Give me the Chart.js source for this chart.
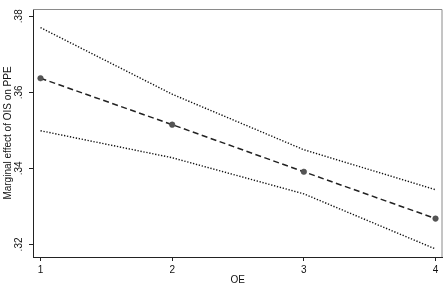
<!DOCTYPE html>
<html><head><meta charset="utf-8">
<script src="https://cdn.jsdelivr.net/npm/chart.js@4"></script>
<style>html,body{margin:0;padding:0;background:#fff}#wrap{width:447px;height:284px;position:relative}</style>
</head><body><div id="wrap"><canvas id="c"></canvas></div>
<script>
const oe = [1, 2, 3, 4];
const effect = [0.3637, 0.3515, 0.3391, 0.3268];
const upper = [0.3770, 0.3595, 0.3449, 0.3344];
const lower = [0.3499, 0.3428, 0.3333, 0.3188];
const xTicks = [1, 2, 3, 4];
const yTicks = [0.32, 0.34, 0.36, 0.38];
const xTitle = 'OE';
const yTitle = 'Marginal effect of OIS on PPE';

const FONT = 'Liberation Sans, Arial, sans-serif';
const pts = arr => oe.map((x, i) => ({x: x, y: arr[i]}));

const framePlugin = {
  id: 'frame',
  afterDraw(chart) {
    const a = chart.chartArea, ctx = chart.ctx;
    ctx.save();
    ctx.strokeStyle = '#8a8a8a';
    ctx.lineWidth = 1;
    ctx.beginPath();
    ctx.moveTo(a.left, a.top + 0.5);
    ctx.lineTo(a.right - 0.5, a.top + 0.5);
    ctx.lineTo(a.right - 0.5, a.bottom);
    ctx.stroke();
    ctx.restore();
  }
};

new Chart(document.getElementById('c'), {
  type: 'line',
  data: {
    datasets: [
      {data: pts(upper), borderColor: '#111', borderWidth: 1.4, borderDash: [1.3, 1.7], pointRadius: 0, tension: 0},
      {data: pts(effect), borderColor: '#222', borderWidth: 1.5, borderDash: [6, 3.5], pointRadius: 2.8, pointBackgroundColor: '#555', pointBorderColor: '#444', pointBorderWidth: 0.5, tension: 0},
      {data: pts(lower), borderColor: '#111', borderWidth: 1.4, borderDash: [1.3, 1.7], pointRadius: 0, tension: 0}
    ]
  },
  options: {
    responsive: true,
    maintainAspectRatio: false,
    animation: false,
    layout: {padding: {top: 2, right: 2, left: 0, bottom: 0}},
    plugins: {legend: {display: false}, tooltip: {enabled: false}},
    scales: {
      x: {
        type: 'linear', min: 0.943, max: 4.053,
        afterBuildTicks: s => { s.ticks = xTicks.map(v => ({value: v})); },
        afterFit: s => { s.height = 27; },
        grid: {drawOnChartArea: false, drawTicks: true, tickLength: 4, color: '#222'},
        border: {display: true, color: '#222', width: 1},
        ticks: {color: '#111', font: {family: FONT, size: 10}, padding: 3, maxRotation: 0, callback: v => String(v)},
        title: {display: true, text: xTitle, color: '#111', font: {family: FONT, size: 10}, padding: {top: 0, bottom: -2}}
      },
      y: {
        type: 'linear', min: 0.3167, max: 0.3819,
        afterBuildTicks: s => { s.ticks = yTicks.map(v => ({value: v})); },
        afterFit: s => { s.width = 33; },
        grid: {drawOnChartArea: false, drawTicks: true, tickLength: 4, color: '#222'},
        border: {display: true, color: '#222', width: 1},
        ticks: {color: '#111', font: {family: FONT, size: 10}, padding: 3, minRotation: 90, maxRotation: 90, crossAlign: 'center',
          callback: v => v.toFixed(2).replace(/^0/, '')},
        title: {display: true, text: yTitle, color: '#111', font: {family: FONT, size: 10}, padding: {top: 2, bottom: 0}}
      }
    }
  },
  plugins: [framePlugin]
});
</script>
</body></html>
